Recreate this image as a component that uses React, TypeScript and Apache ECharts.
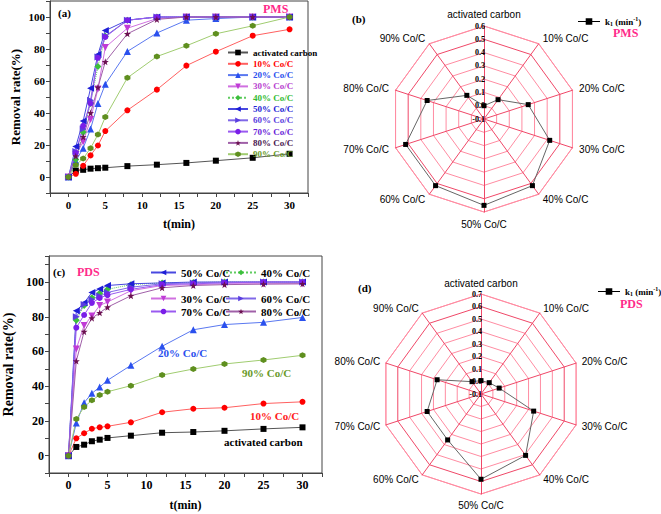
import React, { useEffect, useRef } from 'react';
import * as echarts from 'echarts';

const timePoints = [0, 1, 2, 3, 4, 5, 8, 12, 16, 20, 25, 30];
const seriesNames = ['activated carbon', '10% Co/C', '20% Co/C', '30% Co/C', '40% Co/C', '50% Co/C', '60% Co/C', '70% Co/C', '80% Co/C', '90% Co/C'];

// (a) PMS removal rate (%)
const pmsAC = [0, 4, 4.5, 5.2, 5.5, 5.8, 6.8, 7.7, 8.8, 10.2, 12, 14.5];
const pms10 = [0, 2, 7, 13.5, 19.7, 28.7, 41.7, 54.6, 69.6, 78.3, 88.3, 92.3];
const pms20 = [0, 10, 18, 30, 46, 58, 78.5, 90, 98, 99, 100, 100];
const pms30 = [0, 14, 22, 36, 55, 81, 93, 99, 100, 100, 100, 100];
const pms40 = [0, 11, 28, 46, 69, 88, 98, 100, 100, 100, 100, 100];
const pms50 = [0, 19, 35, 55.5, 76.5, 91.5, 98, 100, 100, 100, 100, 100];
const pms60 = [0, 16, 30, 48, 75, 88, 98, 100, 100, 100, 100, 100];
const pms70 = [0, 15, 32, 46, 74.5, 87.5, 98, 100, 100, 100, 100, 100];
const pms80 = [0, 13, 25, 40, 56, 72, 89.5, 98.5, 100, 100, 100, 100];
const pms90 = [0, 7.5, 11.5, 18, 26.5, 37.5, 62, 75.3, 82, 89.5, 94.5, 100];

// (c) PDS removal rate (%)
const pdsAC = [0, 5, 6.3, 8.3, 9.2, 10.2, 11.5, 13.2, 13.6, 14.3, 15.4, 16.3];
const pds10 = [0, 10, 12.9, 15.5, 16.3, 16.9, 19.2, 25, 27, 27.6, 30, 31];
const pds20 = [0, 18.8, 30.5, 35.9, 39.5, 43.4, 52, 63, 72.5, 75.5, 76.8, 79.6];
const pds30 = [0, 61.5, 75, 80.5, 86.5, 88.5, 95, 98, 98.5, 99, 99, 99];
const pds40 = [0, 78, 86.5, 91, 93.5, 95.8, 98.5, 99.5, 99.7, 100, 100, 100];
const pds50 = [0, 83.5, 88, 94, 96, 98, 99, 99.5, 100, 100, 100, 100];
const pds60 = [0, 80, 87, 90, 92, 94, 97, 99, 99.5, 100, 100, 100];
const pds70 = [0, 73.7, 81, 88, 90.8, 92.5, 95.8, 98.5, 99, 99.5, 100, 100];
const pds80 = [0, 54.5, 71.4, 79.2, 82.3, 85.5, 92.1, 96.7, 98, 98.5, 98.8, 99];
const pds90 = [0, 21.1, 28, 31.9, 34.9, 36.8, 40.3, 46.4, 49.9, 52.8, 55.1, 57.8];

// radar k1 (min^-1)
const radarNames = seriesNames;
const kPMS = [0.0, 0.08, 0.25, 0.42, 0.52, 0.55, 0.52, 0.52, 0.35, 0.12];
const kPDS = [0.007, 0.012, 0.053, 0.343, 0.507, 0.582, 0.354, 0.353, 0.269, 0.022];

const xTickLabels = [0, 5, 10, 15, 20, 25, 30];
const yTickLabels = [0, 20, 40, 60, 80, 100];
const kName = 'k1 (min-1)';

const SERIF = '"Liberation Serif", "Times New Roman", serif';
const SANS = '"Liberation Sans", Arial, sans-serif';

const STAR = 'path://M0,-10L2.35,-3.24L9.51,-3.09L3.8,1.24L5.88,8.09L0,4L-5.88,8.09L-3.8,1.24L-9.51,-3.09L-2.35,-3.24Z';
const HEX = 'path://M0,-10L8.66,-5L8.66,5L0,10L-8.66,5L-8.66,-5Z';

const styles = [
  { symbol: 'rect', rotate: 0, color: '#000000', line: '#555555', size: 6, dotted: false, text: '#000000' },
  { symbol: 'circle', rotate: 0, color: '#ff0000', line: '#ff6060', size: 6, dotted: false, text: '#ff0000' },
  { symbol: 'triangle', rotate: 0, color: '#2a50ee', line: '#5a78f0', size: 7, dotted: false, text: '#2a50ee' },
  { symbol: 'triangle', rotate: 180, color: '#c03ad6', line: '#d070e0', size: 7, dotted: false, text: '#b840d0' },
  { symbol: 'diamond', rotate: 0, color: '#3cbf3c', line: '#60cc60', size: 7, dotted: true, text: '#33bb33' },
  { symbol: 'triangle', rotate: 90, color: '#1e1ed6', line: '#4848e0', size: 7, dotted: false, text: '#1e1ed6' },
  { symbol: 'triangle', rotate: -90, color: '#5a3ee0', line: '#8068e8', size: 7, dotted: false, text: '#5a3ee0' },
  { symbol: 'circle', rotate: 0, color: '#7a1ee8', line: '#9a5af0', size: 6, dotted: false, text: '#6a1ed8' },
  { symbol: STAR, rotate: 0, color: '#6b1050', line: '#a060a8', size: 7, dotted: false, text: '#4a1850' },
  { symbol: HEX, rotate: 0, color: '#5f8f1f', line: '#a0cc70', size: 6, dotted: false, text: '#6a9a2a' },
];

const pmsData = [pmsAC, pms10, pms20, pms30, pms40, pms50, pms60, pms70, pms80, pms90];
const pdsData = [pdsAC, pds10, pds20, pds30, pds40, pds50, pds60, pds70, pds80, pds90];

function lineSeries(all: number[][], gi: number) {
  return all.map((vals, i) => {
    const s = styles[i];
    return {
      type: 'line',
      name: seriesNames[i],
      xAxisIndex: gi,
      yAxisIndex: gi,
      data: timePoints.map((t, j) => [t, vals[j]]),
      symbol: s.symbol,
      symbolSize: s.size,
      symbolRotate: s.rotate,
      itemStyle: { color: s.color },
      lineStyle: { color: s.line, width: 1, type: s.dotted ? 'dotted' : 'solid' },
      z: 3,
    };
  });
}

function xAxis(gi: number, fs: number) {
  return {
    gridIndex: gi,
    type: 'value',
    min: -2.5,
    max: 32.5,
    interval: 2.5,
    axisLine: { onZero: false, lineStyle: { color: '#444', width: 1 } },
    axisTick: { length: 4, lineStyle: { color: '#444' } },
    splitLine: { show: false },
    axisLabel: {
      formatter: (v: number) => (xTickLabels.includes(v) ? String(v) : ''),
      fontFamily: SERIF, fontWeight: 'bold', fontSize: fs, color: '#000', margin: 6,
    },
    name: 't(min)',
    nameLocation: 'middle',
    nameGap: gi === 0 ? 25 : 26,
    nameTextStyle: { fontFamily: SERIF, fontWeight: 'bold', fontSize: 12, color: '#000' },
  };
}

function yAxis(gi: number, max: number, fs: number, nfs: number, gap: number) {
  return {
    gridIndex: gi,
    type: 'value',
    min: -10,
    max,
    interval: 10,
    axisLine: { onZero: false, lineStyle: { color: '#444', width: 1 } },
    axisTick: { length: 4, lineStyle: { color: '#444' } },
    splitLine: { show: false },
    axisLabel: {
      formatter: (v: number) => (yTickLabels.includes(v) ? String(v) : ''),
      fontFamily: SERIF, fontWeight: 'bold', fontSize: fs, color: '#000', margin: 5,
    },
    name: 'Removal rate(%)',
    nameLocation: 'middle',
    nameGap: gap,
    nameTextStyle: { fontFamily: SERIF, fontWeight: 'bold', fontSize: nfs, color: '#000' },
  };
}

const radarOrder = [0, 9, 8, 7, 6, 5, 4, 3, 2, 1];

function radarCfg(center: number[], radius: number, max: number, splits: number, gap: number) {
  const colors: string[] = [];
  for (let i = 0; i < splits; i++) colors.push(i === splits - 1 ? '#f04868' : '#ff8ca2');
  return {
    center,
    radius,
    startAngle: 90,
    shape: 'polygon',
    splitNumber: splits,
    indicator: radarOrder.map((i) => ({ name: radarNames[i], min: -0.1, max })),
    axisName: { color: '#000', fontSize: 10, fontFamily: SANS },
    nameGap: gap,
    splitLine: { lineStyle: { color: colors, width: 1 } },
    splitArea: { show: false },
    axisLine: { lineStyle: { color: '#f04868', width: 1 } },
  };
}

function radiusAxis(pi: number, max: number) {
  return {
    polarIndex: pi,
    type: 'value',
    min: -0.1,
    max,
    interval: 0.1,
    axisLine: { show: false },
    axisTick: { show: false },
    splitLine: { show: false },
    axisLabel: {
      fontSize: 8, fontWeight: 'bold', fontFamily: SERIF, color: '#000', margin: -1, align: 'right',
      formatter: (v: number) => Number(v).toFixed(1),
    },
    z: 10,
  };
}

const kIcon = 'path://M0,3.6H7V4.4H0Z M7,1H13V7H7Z M13,3.6H20V4.4H13Z';
const kRich = {
  b: { fontFamily: SERIF, fontWeight: 'bold', fontSize: 9, color: '#000', lineHeight: 11, verticalAlign: 'middle' },
  s: { fontFamily: SERIF, fontWeight: 'bold', fontSize: 6, color: '#000', lineHeight: 11, verticalAlign: 'bottom' },
  p: { fontFamily: SERIF, fontWeight: 'bold', fontSize: 6, color: '#000', lineHeight: 11, verticalAlign: 'top' },
};
const kFormatter = () => '{b|k}{s|1}{b| (min}{p|-1}{b|)}';

function txt(text: string, x: number, y: number, color: string, size: number, align = 'left') {
  return {
    type: 'text',
    x,
    y,
    z: 20,
    style: { text, fill: color, font: `bold ${size}px ${SERIF}`, align, verticalAlign: 'middle' },
  };
}

export default function App() {
  const ref = useRef<HTMLDivElement>(null);
  useEffect(() => {
    if (!ref.current) return;
    const chart = echarts.init(ref.current, undefined, { renderer: 'svg' });
    const cLegendItems = [
      { name: '50% Co/C', left: 145, top: 262, w: 25 },
      { name: '40% Co/C', left: 220, top: 262, w: 30 },
      { name: '30% Co/C', left: 145, top: 288, w: 25 },
      { name: '60% Co/C', left: 220, top: 288, w: 30 },
      { name: '70% Co/C', left: 145, top: 301, w: 25 },
      { name: '80% Co/C', left: 220, top: 301, w: 30 },
    ];
    const kLegend = (left: number, top: number) => ({
      left, top, itemWidth: 22, itemHeight: 8, icon: kIcon, selectedMode: false, itemGap: 4,
      formatter: kFormatter,
      textStyle: { rich: kRich },
      data: [kName],
    });
    const option: any = {
      animation: false,
      backgroundColor: '#ffffff',
      grid: [
        { left: 50, top: 1, width: 258, height: 192, show: true, borderColor: '#444', borderWidth: 1, backgroundColor: 'transparent' },
        { left: 43, top: 256, width: 279, height: 217, show: true, borderColor: '#444', borderWidth: 1, backgroundColor: 'transparent' },
      ],
      xAxis: [xAxis(0, 11), xAxis(1, 12)],
      yAxis: [yAxis(0, 110, 11, 13, 28), yAxis(1, 115, 12, 14, 34)],
      radar: [radarCfg([484, 119], 93, 0.6, 7, 7), radarCfg([481, 394], 100, 0.7, 8, 6)],
      polar: [
        { center: [484, 119], radius: 93 },
        { center: [481, 394], radius: 100 },
      ],
      angleAxis: [
        { polarIndex: 0, type: 'value', min: 0, max: 360, startAngle: 90, show: false },
        { polarIndex: 1, type: 'value', min: 0, max: 360, startAngle: 90, show: false },
      ],
      radiusAxis: [radiusAxis(0, 0.6), radiusAxis(1, 0.7)],
      legend: [
        {
          orient: 'vertical',
          left: 222,
          top: 43,
          itemWidth: 20,
          itemHeight: 7,
          itemGap: 2.3,
          selectedMode: false,
          textStyle: { fontFamily: SERIF, fontWeight: 'bold', fontSize: 9, lineHeight: 9 },
          data: seriesNames.map((n, i) => ({ name: n, textStyle: { color: styles[i].text } })),
        },
        ...cLegendItems.map((it) => ({
          orient: 'horizontal',
          left: it.left,
          top: it.top,
          itemWidth: it.w,
          itemHeight: 7,
          selectedMode: false,
          textStyle: { fontFamily: SERIF, fontWeight: 'bold', fontSize: 11, color: '#000' },
          data: [it.name],
        })),
        kLegend(573, 11),
        kLegend(593, 281),
      ],
      series: [
        ...lineSeries(pmsData, 0),
        ...lineSeries(pdsData, 1),
        {
          type: 'radar', radarIndex: 0, name: kName, symbol: 'rect', symbolSize: 5,
          itemStyle: { color: '#000' }, lineStyle: { color: '#666', width: 1 },
          data: [{ value: radarOrder.map((i) => kPMS[i]), name: kName }],
          z: 5,
        },
        {
          type: 'radar', radarIndex: 1, name: kName, symbol: 'rect', symbolSize: 5,
          itemStyle: { color: '#000' }, lineStyle: { color: '#666', width: 1 },
          data: [{ value: radarOrder.map((i) => kPDS[i]), name: kName }],
          z: 5,
        },
      ],
      graphic: [
        txt('(a)', 58, 13, '#000', 11),
        txt('PMS', 263, 9, '#ff2a8a', 12),
        txt('(b)', 352, 19, '#000', 11),
        txt('PMS', 613, 33, '#ff2a8a', 12),
        txt('(c)', 53, 272, '#000', 11),
        txt('PDS', 77, 272, '#ff2a8a', 12),
        txt('(d)', 358, 288, '#000', 11),
        txt('PDS', 620, 304, '#ff2a8a', 12),
        txt('20% Co/C', 158, 353, styles[2].text, 11),
        txt('90% Co/C', 242, 373, styles[9].text, 11),
        txt('10% Co/C', 250, 416, '#ff2020', 11),
        txt('activated carbon', 224, 442, '#000', 11),
      ],
    };
    chart.setOption(option);
    return () => chart.dispose();
  }, []);
  return <div ref={ref} style={{ position: 'absolute', left: 0, top: 0, width: 661, height: 514, background: '#fff' }} />;
}
